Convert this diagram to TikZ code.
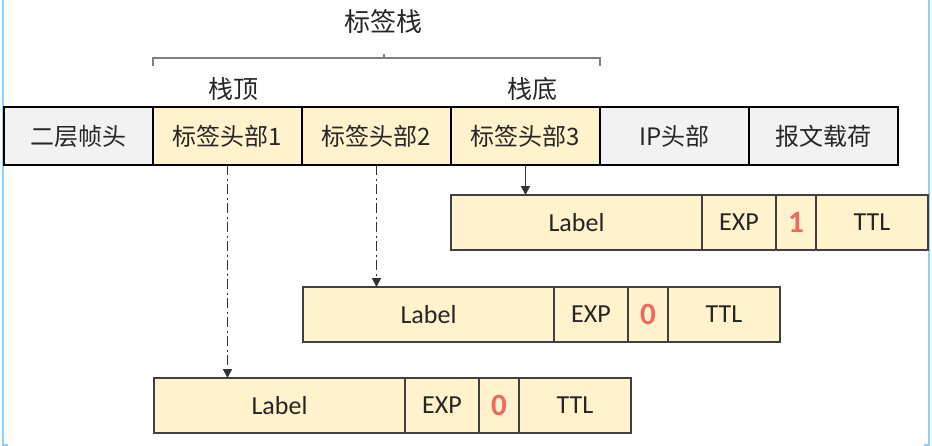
\documentclass[tikz,border=0pt]{standalone}
\usepackage{fontspec}
\setmainfont{Carlito}
\newfontfamily\cjk{Noto Sans CJK SC}
\usetikzlibrary{positioning,arrows.meta}
\definecolor{hdrgray}{RGB}{242,242,242}
\definecolor{lblyellow}{RGB}{255,242,204}
\definecolor{bitred}{RGB}{240,104,92}
\definecolor{txtgray}{RGB}{38,38,38}
\definecolor{edgeblue}{RGB}{140,210,255}

\begin{document}
\begin{tikzpicture}[x=1pt,y=-1pt]
  \tikzstyle{every node}+=[inner sep=0pt, outer sep=0pt, text=txtgray]
  \tikzstyle{hcell}=[draw=black, line width=2.6pt, minimum width=149pt, minimum height=58pt, font=\cjk\fontsize{24}{28}\selectfont]
  \tikzstyle{lcell}=[draw=black!75, line width=1.5pt, fill=lblyellow, minimum height=55pt, font=\fontsize{26}{30}\selectfont]
  \tikzstyle{bitcell}=[lcell, minimum width=40pt, text=bitred, font=\bfseries\fontsize{31}{34}\selectfont]
  \tikzstyle{chain}=[draw=black!80, line width=1.8pt, -{Triangle[width=9pt,length=9pt]}]
  \tikzstyle{dashdot}=[chain, dash pattern=on 10pt off 3.5pt on 2pt off 3.5pt]
  \tikzstyle{brace}=[draw=black!50, line width=2pt]
  \useasboundingbox (0,0) rectangle (932,445);
  % screen edges
  \draw[edgeblue, line width=1.5pt] (3,0) -- (3,445) -- (8,445);
  \draw[edgeblue, line width=1.5pt] (929,0) -- (929,445) -- (924,445);
  % frame
  \node[hcell, fill=hdrgray, anchor=north west] (l2hdr) at (4,107) {二层帧头};
  \node[hcell, fill=lblyellow, right=0pt of l2hdr] (hdr1) {标签头部1};
  \node[hcell, fill=lblyellow, right=0pt of hdr1] (hdr2) {标签头部2};
  \node[hcell, fill=lblyellow, right=0pt of hdr2] (hdr3) {标签头部3};
  \node[hcell, fill=hdrgray, right=0pt of hdr3] (iphdr) {IP头部};
  \node[hcell, fill=hdrgray, right=0pt of iphdr] (payload) {报文载荷};
  % stack
  \draw[brace] (153,66) -- (153,58) -- (600,58) -- (600,66);
  \draw[brace] (384,58) -- (384,54);
  \node[font=\cjk\fontsize{26}{30}\selectfont] (stack) at (383,22) {标签栈};
  \node[font=\cjk\fontsize{25}{30}\selectfont] (top) at (233,89) {栈顶};
  \node[font=\cjk\fontsize{25}{30}\selectfont] (bottom) at (532,89) {栈底};
  % label header 3
  \node[lcell, minimum width=251pt, anchor=north west] (lab3) at (451,195) {Label};
  \node[lcell, minimum width=74pt, right=0pt of lab3] (exp3) {EXP};
  \node[bitcell, right=0pt of exp3] (s3) {1};
  \node[lcell, minimum width=112pt, right=0pt of s3] (ttl3) {TTL};
  % label header 2
  \node[lcell, minimum width=251pt, anchor=north west] (lab2) at (303,287) {Label};
  \node[lcell, minimum width=74pt, right=0pt of lab2] (exp2) {EXP};
  \node[bitcell, right=0pt of exp2] (s2) {0};
  \node[lcell, minimum width=112pt, right=0pt of s2] (ttl2) {TTL};
  % label header 1
  \node[lcell, minimum width=251pt, anchor=north west] (lab1) at (154,378) {Label};
  \node[lcell, minimum width=74pt, right=0pt of lab1] (exp1) {EXP};
  \node[bitcell, right=0pt of exp1] (s1) {0};
  \node[lcell, minimum width=112pt, right=0pt of s1] (ttl1) {TTL};
  % expansion
  \draw[dashdot] (hdr1.south) -- (hdr1.south |- lab1.north);
  \draw[dashdot] (hdr2.south) -- (hdr2.south |- lab2.north);
  \draw[chain] (hdr3.south) -- (hdr3.south |- lab3.north);
\end{tikzpicture}
\end{document}
